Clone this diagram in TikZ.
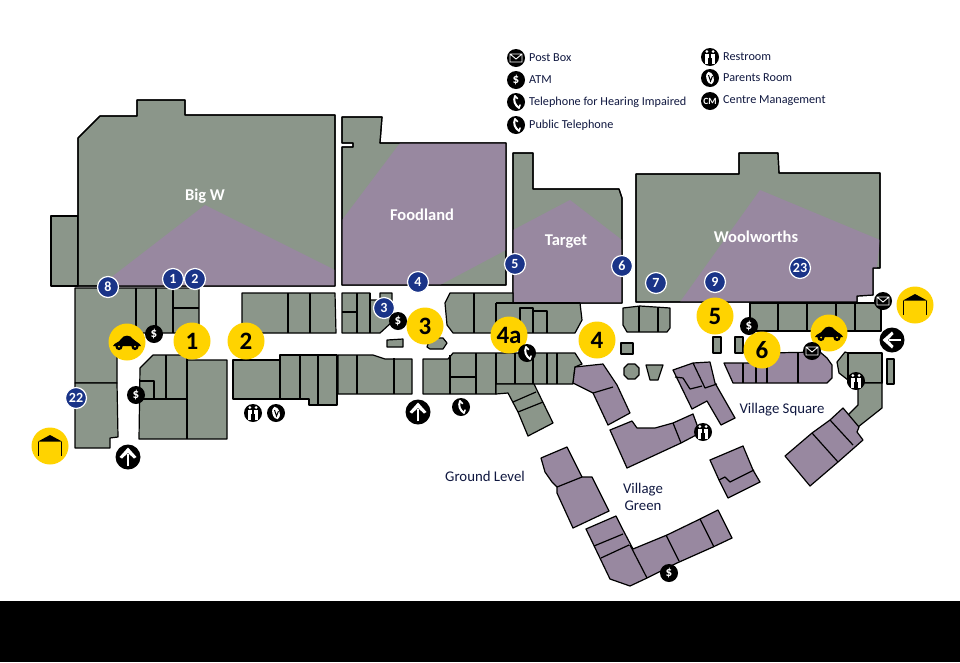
\documentclass[tikz,border=0pt]{standalone}
\usepackage{fontspec}
\setmainfont{Carlito}
\usetikzlibrary{positioning}
\definecolor{shopgreen}{RGB}{139,150,138}
\definecolor{shopmauve}{RGB}{152,136,160}
\definecolor{markyellow}{RGB}{255,211,0}
\definecolor{markblue}{RGB}{26,52,136}
\definecolor{labelink}{RGB}{16,24,64}
\newcommand{\bigwpart}{(78,138) -- (100,116) -- (137,116) -- (137,100) -- (185,100) -- (185,115)
  -- (335,115) -- (335,286) -- (78,286) -- cycle}
\newcommand{\foodlandpart}{(342,117) -- (382,117) -- (380,143) -- (506,143) -- (506,285) -- (342,285)
  -- (342,147) -- (353,147) -- (353,143) -- (342,143) -- cycle}
\newcommand{\targetpart}{(513,153) -- (533,153) -- (533,189) -- (619,189) -- (622,198) -- (622,303)
  -- (513,303) -- cycle}
\newcommand{\woolworthspart}{(636,174) -- (739,174) -- (739,153) -- (778,153) -- (779,173) -- (880,173)
  -- (880,268) -- (873,268) -- (873,295) -- (857,296) -- (857,302) -- (636,302) -- cycle}
\newcommand{\mailmark}[2]{
  \node[darkmark] (#1) at (#2) {};
  \begin{scope}[shift={(#1)}]
    \draw[white,line width=0.9] (-6,-4) rectangle (6,4) (-6,-4) -- (0,1) -- (6,-4);
  \end{scope}
}
\newcommand{\phonemark}[2]{
  \node[darkmark] (#1) at (#2) {};
  \begin{scope}[shift={(#1)}]
    \draw[white,line width=2,line cap=round] (-1,-6) .. controls (-3,-1) and (-1,3) .. (3,6);
    \draw[white,line width=1.6,line cap=round] (-1,-6) -- (1.5,-3.5) (3,6) -- (4,3);
  \end{scope}
}
\newcommand{\restmark}[2]{
  \node[darkmark] (#1) at (#2) {};
  \begin{scope}[shift={(#1)}]
    \foreach \dx in {-3.2,3.2} {
      \fill[white] (\dx,-5.5) circle (1.5);
      \fill[white] (\dx-2.2,-3.5) rectangle (\dx+2.2,1);
      \draw[white,line width=1.3] (\dx-0.8,1) -- (\dx-0.8,6.5) (\dx+0.8,1) -- (\dx+0.8,6.5);
    }
  \end{scope}
}
\newcommand{\parentmark}[2]{
  \node[darkmark] (#1) at (#2) {};
  \begin{scope}[shift={(#1)}]
    \fill[white,rotate=15] (0,0) ellipse (3.6 and 6.4);
    \draw[black,line width=1] (-1.5,-3) -- (0.5,3) -- (2.5,-2);
  \end{scope}
}
\newcommand{\arrowmark}[3]{
  \node[darkmark,minimum size=25] (#1) at (#2) {};
  \begin{scope}[shift={(#1)},rotate=#3]
    \draw[white,line width=2.8] (0,9) -- (0,-3);
    \fill[white] (0,-9.5) -- (8.5,0) -- (6,1.5) -- (0,-4) -- (-6,1.5) -- (-8.5,0) -- cycle;
  \end{scope}
}
\newcommand{\carmark}[2]{
  \node[yellowmark] (#1) at (#2) {};
  \begin{scope}[shift={(#1)}]
    \fill[black] (-14,4) .. controls (-12,0) and (-8,1) .. (-6,-3) .. controls (-3,-7.5) and (3,-7.5) .. (6,-3)
      .. controls (9,0) and (13,1) .. (14,4) -- cycle;
    \foreach \dx in {-8,8} {
      \fill[black] (\dx,4.5) circle (3.6);
      \fill[markyellow] (\dx,4.5) circle (1);
    }
  \end{scope}
}
\newcommand{\garagemark}[2]{
  \node[yellowmark] (#1) at (#2) {};
  \begin{scope}[shift={(#1)}]
    \fill[black] (0,-11) -- (12,-4.5) -- (-12,-4.5) -- cycle;
    \draw[black,line width=1.3] (-11.3,-4.5) -- (-11.3,10) (11.3,-4.5) -- (11.3,10);
  \end{scope}
}
\tikzset{
  shop/.style={draw=black,line width=1.2,line join=round,fill=shopgreen},
  shopm/.style={shop,fill=shopmauve},
  wall/.style={draw=black,line width=1.2,line join=round},
  patch/.style={fill=shopmauve,draw=none},
  anchorlabel/.style={text=white,font=\fontsize{16.5}{16.5}\selectfont\bfseries},
  placelabel/.style={text=labelink,font=\fontsize{14.8}{17}\selectfont,align=center},
  legendlabel/.style={text=labelink,font=\fontsize{12.2}{12.2}\selectfont,right=0.5pt of #1},
  yellowmark/.style={circle,fill=markyellow,minimum size=37,inner sep=0,
    font=\fontsize{25}{25}\selectfont\bfseries},
  bluemark/.style={circle,fill=markblue,draw=white,line width=1.2,minimum size=21,inner sep=0,
    text=white,font=\fontsize{14}{14}\selectfont\bfseries},
  darkmark/.style={circle,fill=black,minimum size=18,inner sep=0,text=white,
    font=\fontsize{13}{13}\selectfont\bfseries}
}
\begin{document}
\begin{tikzpicture}[x=1pt,y=-1pt]
  \useasboundingbox (0,0) rectangle (960,662);
  \fill[white] (0,0) rectangle (960,601);
  \fill[black] (0,601) rectangle (960,662);

  % big w part
  \draw[shop] (51,216) rectangle (78,286);
  \draw[shop] \bigwpart;
  \begin{scope}
    \clip \bigwpart;
    \fill[patch] (205,205) -- (335,270) -- (335,286) -- (100,286) -- cycle;
  \end{scope}
  \draw[wall] \bigwpart;

  % foodland part
  \draw[shop] \foodlandpart;
  \begin{scope}
    \clip \foodlandpart;
    \fill[patch] (400,143) -- (506,143) -- (506,250) -- (440,285) -- (342,285) -- (342,220) -- cycle;
  \end{scope}
  \draw[wall] \foodlandpart;

  % target part
  \draw[shop] \targetpart;
  \begin{scope}
    \clip \targetpart;
    \fill[patch] (513,230) -- (570,200) -- (622,240) -- (622,303) -- (513,303) -- cycle;
  \end{scope}
  \draw[wall] \targetpart;

  % woolworths part
  \draw[shop] \woolworthspart;
  \begin{scope}
    \clip \woolworthspart;
    \fill[patch] (680,302) -- (760,190) -- (880,240) -- (873,302) -- cycle;
  \end{scope}
  \draw[wall] \woolworthspart;

  % west shops
  \draw[shop] (75,288) -- (199,288) -- (199,333) -- (124,333) -- (117,345) -- (117,383) -- (75,383) -- cycle;
  \draw[wall] (136,288) -- (136,333) (156,288) -- (156,333) (173,288) -- (173,333) (173,308) -- (199,308);
  \draw[shop] (75,383) -- (117,383) -- (118,437) -- (110,438) -- (110,448) -- (75,448) -- cycle;
  \draw[shop] (140,368) -- (153,355) -- (187,355) -- (187,360) -- (227,360) -- (227,439) -- (139,439) -- cycle;
  \draw[wall] (166,355) -- (166,399) (187,355) -- (187,439) (140,399) -- (187,399) (140,381) -- (154,381) -- (154,399);
  \draw[shop] (242,293) -- (335,293) -- (336,333) -- (242,333) -- cycle;
  \draw[wall] (288,293) -- (288,333) (310,293) -- (310,333);

  % main row south of mall
  \draw[shop] (233,360) -- (280,360) -- (280,355) -- (337,355) -- (337,405) -- (309,405) -- (309,399) -- (233,399) -- cycle;
  \draw[wall] (280,355) -- (280,399) (300,355) -- (300,399) (318,355) -- (318,405);
  \draw[shop] (338,355) -- (373,355) -- (385,359) -- (412,359) -- (412,394) -- (338,394) -- cycle;
  \draw[wall] (357,355) -- (357,394) (394,358) -- (394,394);

  % foodland shops
  \draw[shop] (342,293) -- (370,293) -- (370,300) -- (380,300) -- (380,293) -- (392,293) -- (392,322) -- (380,333) -- (342,333) -- cycle;
  \draw[wall] (357,293) -- (357,333) (370,293) -- (370,333) (342,312) -- (357,312);
  \draw[shop] (387,340) -- (403,339) -- (403,347) -- (387,347) -- cycle;
  \draw[shop] (427,347) -- (430,338) -- (443,338) -- (447,343) -- (443,349) -- (430,349) -- cycle;

  % target shops
  \draw[shop] (445,303) -- (450,293) -- (513,293) -- (513,303) -- (580,303) -- (582,320) -- (575,333) -- (453,333) -- (447,325) -- cycle;
  \draw[wall] (474,293) -- (474,333) (496,303) -- (496,333) (496,303) -- (580,303) (520,333) -- (520,308) -- (533,308) -- (533,333)
    (533,311) -- (547,311) -- (547,333);
  \draw[shop] (423,359) -- (448,359) -- (453,353) -- (575,353) -- (582,364) -- (575,367) -- (573,384) -- (534,384) -- (496,384) -- (496,394) -- (423,394) -- cycle;
  \draw[wall] (450,355) -- (450,394) (450,377) -- (476,377) (476,353) -- (476,394) (496,353) -- (496,394) (515,353) -- (515,384)
    (533,353) -- (533,384) (547,353) -- (547,384) (557,353) -- (557,384);
  \draw[shop] (496,384) -- (534,384) -- (553,423) -- (528,436) -- (518,412) -- (508,393) -- (496,394) -- cycle;
  \draw[wall] (513,402) -- (536,392) (518,412) -- (543,402);
  \draw[shopm] (575,367) -- (603,364) -- (617,385) -- (630,413) -- (608,425) -- (593,393) -- (573,383) -- cycle;
  \draw[wall] (593,393) -- (613,387);

  % centre kiosks
  \draw[shop] (623,308) -- (640,306) -- (670,308) -- (670,328) -- (667,332) -- (627,332) -- (623,325) -- cycle;
  \draw[wall] (639,306) -- (639,332) (658,307) -- (658,332);
  \draw[shop] (621,343) rectangle (633,354);
  \draw[shop] (628,364) -- (635,364) -- (639,368) -- (639,375) -- (635,379) -- (628,379) -- (624,375) -- (624,368) -- cycle;
  \draw[shop] (646,365) -- (663,365) -- (658,380) -- (650,380) -- cycle;
  \draw[shop] (713,337) rectangle (721,353);
  \draw[shop] (735,337) -- (743,337) -- (743,353) -- (735,353) -- cycle;

  % village shops
  \draw[shopm] (673,370) -- (693,363) -- (710,362) -- (715,383) -- (735,418) -- (721,425) -- (707,401) -- (692,409) -- cycle;
  \draw[wall] (693,363) -- (705,388) -- (717,384) (675,377) -- (683,378) -- (690,389) -- (702,386);
  \draw[shopm] (610,430) -- (632,421) -- (637,428) -- (655,428) -- (673,423) -- (693,414) -- (700,433) -- (681,443) -- (627,468) -- cycle;
  \draw[wall] (673,423) -- (681,443);
  \draw[shopm] (710,460) -- (743,446) -- (753,470) -- (760,482) -- (728,498) -- (719,480) -- cycle;
  \draw[wall] (719,480) -- (725,477) -- (730,482) -- (754,470);
  \draw[shopm] (541,458) -- (567,447) -- (582,477) -- (592,477) -- (609,511) -- (573,528) -- (557,493) -- (557,487) -- (552,482) -- (545,472) -- cycle;
  \draw[wall] (557,487) -- (582,477);
  \draw[shopm] (586,529) -- (616,516) -- (622,528) -- (633,549) -- (667,535) -- (700,519) -- (718,510) -- (732,538) -- (713,547) -- (677,563) -- (647,578) -- (630,586) -- (610,579) -- cycle;
  \draw[wall] (594,546) -- (623,534) (601,558) -- (629,545) (630,545) -- (647,578) (666,535) -- (679,561) (700,519) -- (714,547);

  % east shops
  \draw[shop] (750,303) -- (881,303) -- (881,331) -- (750,331) -- cycle;
  \draw[wall] (778,303) -- (778,331) (807,303) -- (807,331) (836,303) -- (836,331) (855,303) -- (855,331);
  \draw[shopm] (724,363) -- (766,363) -- (766,353) -- (820,352) -- (827,358) -- (832,365) -- (832,378) -- (827,383) -- (733,383) -- cycle;
  \draw[wall] (743,363) -- (743,383) (756,363) -- (756,383) (767,353) -- (767,383) (798,352) -- (798,383);
  \draw[shop] (845,352) -- (848,353) -- (848,380) -- (839,373) -- (837,362) -- cycle;
  \draw[shop] (848,353) -- (882,353) -- (882,383) -- (848,383) -- cycle;
  \draw[shop] (887,359) rectangle (894,384);
  \draw[shop] (858,383) -- (882,383) -- (882,408) -- (858,427) -- (848,415) -- (858,405) -- cycle;
  \draw[shopm] (843,408) -- (859,427) -- (857,432) -- (863,440) -- (838,462) -- (810,486) -- (785,456) -- (812,433) -- (830,420) -- cycle;
  \draw[wall] (830,420) -- (853,445) (812,433) -- (838,462);

  % store and place names
  \node[anchorlabel] (namebigw) at (205,196) {Big W};
  \node[anchorlabel] (namefoodland) at (422,215) {Foodland};
  \node[anchorlabel] (nametarget) at (566,242) {Target};
  \node[anchorlabel] (namewoolworths) at (756,237) {Woolworths};
  \node[placelabel] (nameground) at (485,476) {Ground Level};
  \node[placelabel] (namesquare) at (782,410) {Village Square};
  \node[placelabel] (namegreen) at (643,497) {Village\\Green};

  % yellow markers
  \foreach \nm/\x/\y in {1/192/341,2/246/341,3/425/326,4a/509/335,4/597/340,5/715/316,6/762/350}
    \node[yellowmark] (yellow\nm) at (\x,\y) {\nm};
  \carmark{carwest}{127,342}
  \carmark{careast}{829,333}
  \garagemark{garagewest}{50,446}
  \garagemark{garageeast}{915,305}

  % blue markers
  \foreach \nm/\x/\y in {8/108/287,1/173/279,2/195/279,22/76/398,3/384/308,4/418/282,5/515/264,6/622/266,7/656/283,9/715/282,23/800/268}
    \node[bluemark] (blue\nm) at (\x,\y) {\nm};

  % atm, phones and the rest
  \foreach \nm/\x/\y in {a/154/334,b/136/395,c/398/321,d/749/326,e/669/573}
    \node[darkmark] (atm\nm) at (\x,\y) {\$};
  \phonemark{phonea}{527,353}
  \phonemark{phoneb}{461,407}
  \mailmark{maila}{812,351}
  \mailmark{mailb}{883,301}
  \restmark{resta}{253,413}
  \restmark{restb}{856,381}
  \restmark{restc}{703,432}
  \parentmark{parenta}{276,413}
  \arrowmark{arrowa}{128,457}{0}
  \arrowmark{arrowb}{418,412}{0}
  \arrowmark{arrowc}{892,340}{90}

  % legend
  \mailmark{legmail}{516,58}
  \node[darkmark] (legatm) at (516,80) {\$};
  \phonemark{leghear}{516,102}
  \phonemark{legphone}{516,125}
  \restmark{legrest}{710,57}
  \parentmark{legparent}{710,78}
  \node[darkmark,font=\fontsize{9.5}{9.5}\selectfont\bfseries] (legcentre) at (710,101) {CM};
  \node[legendlabel=legmail] (textmail) {Post Box};
  \node[legendlabel=legatm] (textatm) {ATM};
  \node[legendlabel=leghear] (texthear) {Telephone for Hearing Impaired};
  \node[legendlabel=legphone] (textphone) {Public Telephone};
  \node[legendlabel=legrest] (textrest) {Restroom};
  \node[legendlabel=legparent] (textparent) {Parents Room};
  \node[legendlabel=legcentre] (textcentre) {Centre Management};
\end{tikzpicture}
\end{document}
